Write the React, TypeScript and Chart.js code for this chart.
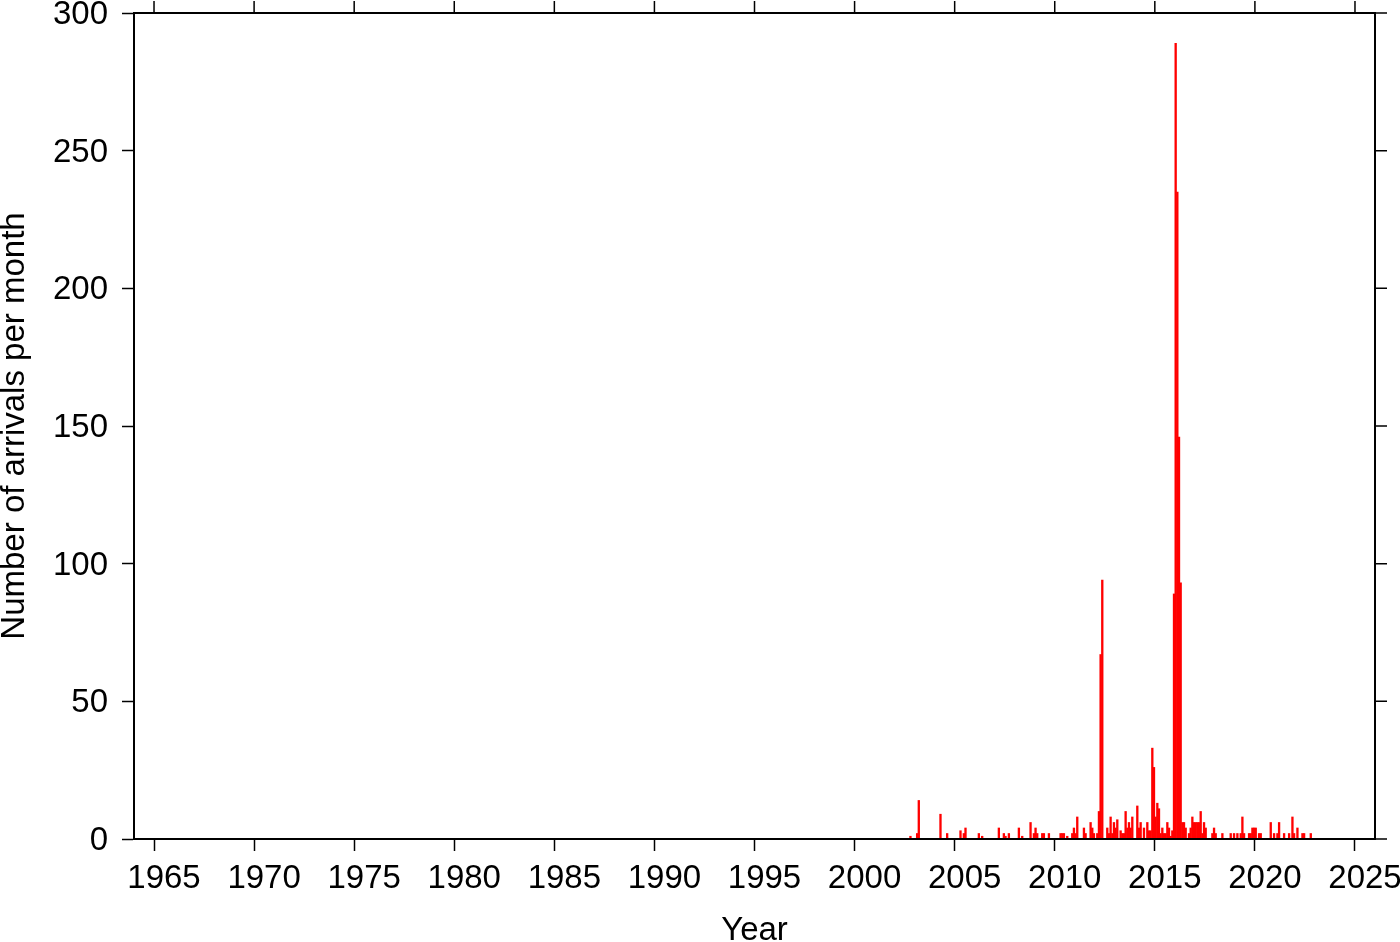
import React, { useEffect, useRef } from "react";
import { Chart, registerables } from "chart.js";

Chart.register(...registerables);

const arrivalMonths = [
  "2002-10", "2003-02", "2003-03", "2004-04", "2004-08", "2005-04", "2005-06", "2005-07",
  "2006-03", "2006-05", "2007-03", "2007-06", "2007-07", "2007-09", "2008-03", "2008-05",
  "2008-10", "2008-12", "2009-01", "2009-02", "2009-05", "2009-06", "2009-09", "2010-04",
  "2010-05", "2010-06", "2010-08", "2010-11", "2010-12", "2011-01", "2011-02", "2011-06",
  "2011-07", "2011-10", "2011-11", "2011-12", "2012-02", "2012-03", "2012-04", "2012-05",
  "2012-08", "2012-09", "2012-10", "2012-11", "2012-12", "2013-01", "2013-02", "2013-04",
  "2013-05", "2013-06", "2013-07", "2013-08", "2013-09", "2013-10", "2013-11", "2014-02",
  "2014-03", "2014-04", "2014-06", "2014-08", "2014-09", "2014-10", "2014-11", "2014-12",
  "2015-01", "2015-02", "2015-03", "2015-04", "2015-05", "2015-06", "2015-07", "2015-08",
  "2015-09", "2015-10", "2015-11", "2015-12", "2016-01", "2016-02", "2016-03", "2016-04",
  "2016-05", "2016-06", "2016-07", "2016-09", "2016-10", "2016-11", "2016-12", "2017-01",
  "2017-02", "2017-03", "2017-04", "2017-05", "2017-06", "2017-07", "2017-11", "2017-12",
  "2018-01", "2018-05", "2018-10", "2018-12", "2019-02", "2019-04", "2019-05", "2019-06",
  "2019-09", "2019-10", "2019-11", "2019-12", "2020-01", "2020-03", "2020-04", "2020-10",
  "2020-12", "2021-02", "2021-03", "2021-06", "2021-09", "2021-11", "2021-12", "2022-02",
  "2022-05", "2022-06", "2022-10",
];

const arrivalCounts = [
  1, 2, 14, 9, 2, 3, 2, 4,
  2, 1, 4, 2, 1, 2, 4, 1,
  6, 2, 4, 2, 2, 2, 2, 2,
  2, 2, 1, 2, 4, 2, 8, 4,
  2, 6, 4, 2, 2, 10, 67, 94,
  4, 2, 8, 2, 6, 4, 7, 3,
  2, 2, 10, 4, 6, 4, 8, 12,
  4, 6, 4, 6, 3, 3, 33, 26,
  8, 13, 11, 2, 4, 2, 2, 6,
  4, 1, 3, 89, 289, 235, 146, 93,
  6, 6, 4, 2, 4, 8, 6, 6,
  6, 6, 10, 2, 6, 4, 2, 4,
  2, 2, 2, 2, 2, 2, 8, 2,
  2, 2, 4, 4, 4, 2, 2, 6,
  2, 2, 6, 2, 2, 8, 2, 4,
  2, 2, 2,
];

const yearTicks = [1965, 1970, 1975, 1980, 1985, 1990, 1995, 2000, 2005, 2010, 2015, 2020, 2025];
const countTicks = [0, 50, 100, 150, 200, 250, 300];
const X_MIN = 1964;
const X_MAX = 2026;
const Y_MIN = 0;
const Y_MAX = 300;

const FONT = '"Liberation Sans", Arial, Helvetica, sans-serif';

export default function App() {
  const ref = useRef<HTMLCanvasElement>(null);

  useEffect(() => {
    if (!ref.current) return;
    const points = arrivalMonths.map((m, i) => {
      const [yr, mo] = m.split("-").map(Number);
      return { x: yr + (mo - 1) / 12 + 1 / 24, y: arrivalCounts[i] };
    });

    const framePlugin = {
      id: "gmtFrame",
      afterDraw(chart: any) {
        const { ctx, chartArea: a, scales } = chart;
        ctx.save();
        ctx.strokeStyle = "#000";
        ctx.lineWidth = 1.5;
        ctx.beginPath();
        yearTicks.forEach((v) => {
          const px = scales.x.getPixelForValue(v);
          ctx.moveTo(px, a.top);
          ctx.lineTo(px, a.top - 12);
        });
        countTicks.forEach((v) => {
          const py = scales.y.getPixelForValue(v);
          ctx.moveTo(a.right, py);
          ctx.lineTo(a.right + 12, py);
        });
        ctx.stroke();
        ctx.lineWidth = 2;
        ctx.strokeRect(a.left, a.top, a.right - a.left, a.bottom - a.top);
        ctx.restore();
      },
    };

    const chart = new Chart(ref.current, {
      type: "bar",
      data: {
        datasets: [
          {
            data: points as any,
            backgroundColor: "rgb(255,0,0)",
            borderWidth: 0,
            barPercentage: 1,
            categoryPercentage: 1,
          },
        ],
      },
      options: {
        animation: false,
        responsive: false,
        devicePixelRatio: 1,
        layout: { padding: { top: 13, right: 25, left: 0, bottom: 0 } },
        plugins: { legend: { display: false }, tooltip: { enabled: false } },
        scales: {
          x: {
            type: "linear",
            min: X_MIN,
            max: X_MAX,
            offset: false,
            afterBuildTicks: (s: any) => {
              s.ticks = yearTicks.map((v) => ({ value: v }));
            },
            afterFit: (s: any) => {
              s.height = 103;
              s.paddingLeft = 0;
              s.paddingRight = 0;
            },
            grid: {
              offset: false,
              drawOnChartArea: false,
              drawTicks: true,
              tickLength: 12,
              tickColor: "#000",
              tickWidth: 1.5,
            },
            border: { display: true, color: "#000", width: 2 },
            ticks: {
              color: "#000",
              font: { family: FONT, size: 33 },
              padding: 8,
              labelOffset: 10,
              maxRotation: 0,
              autoSkip: false,
              callback: (v: any) => String(v),
            },
            title: {
              display: true,
              text: "Year",
              color: "#000",
              font: { family: FONT, size: 33, lineHeight: 1 },
              padding: { top: 0, bottom: -5 },
            },
          },
          y: {
            type: "linear",
            min: Y_MIN,
            max: Y_MAX,
            afterBuildTicks: (s: any) => {
              s.ticks = countTicks.map((v) => ({ value: v }));
            },
            afterFit: (s: any) => {
              s.width = 134;
              s.paddingTop = 0;
              s.paddingBottom = 0;
            },
            grid: {
              drawOnChartArea: false,
              drawTicks: true,
              tickLength: 12,
              tickColor: "#000",
              tickWidth: 1.5,
            },
            border: { display: true, color: "#000", width: 2 },
            ticks: {
              color: "#000",
              font: { family: FONT, size: 33 },
              padding: 14,
              labelOffset: 2,
              autoSkip: false,
              callback: (v: any) => String(v),
            },
            title: {
              display: true,
              text: "Number of arrivals per month",
              color: "#000",
              font: { family: FONT, size: 33, lineHeight: 1 },
              padding: { top: -2, bottom: 0 },
            },
          },
        },
      },
      plugins: [framePlugin],
    });

    return () => chart.destroy();
  }, []);

  return (
    <div style={{ position: "absolute", left: 0, top: 0, width: 1400, height: 942, background: "#fff" }}>
      <canvas ref={ref} width={1400} height={942} style={{ display: "block" }} />
    </div>
  );
}
